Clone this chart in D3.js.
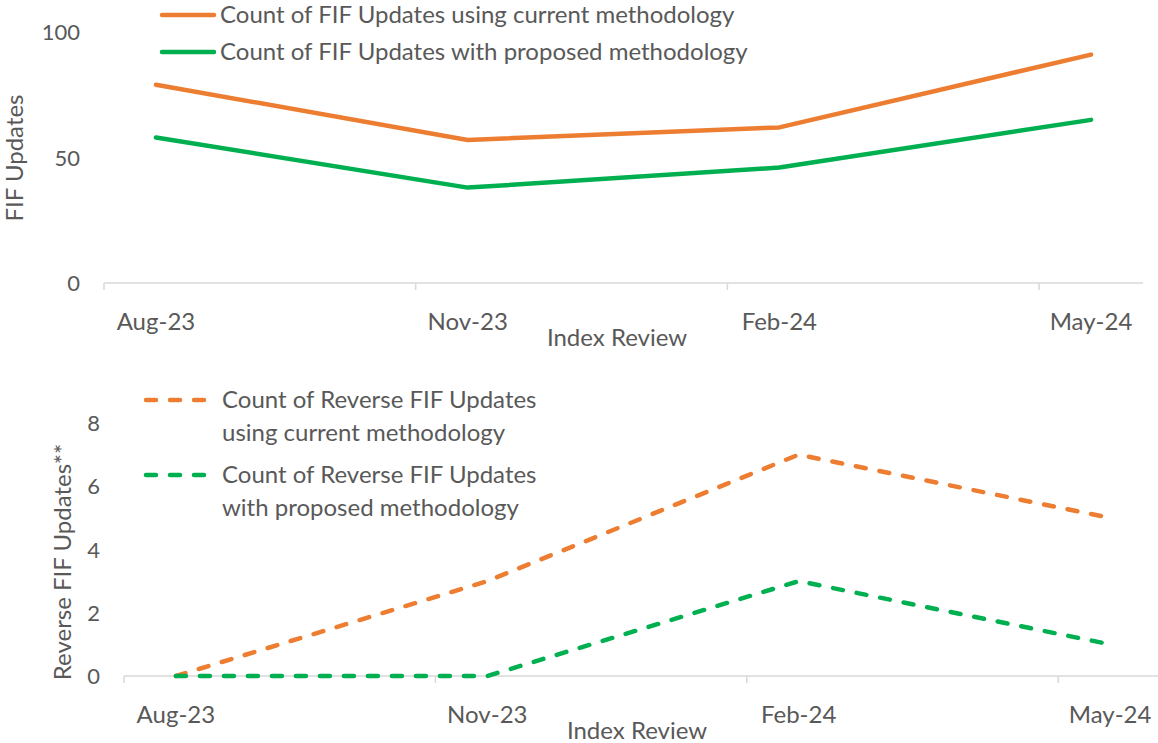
<!DOCTYPE html>
<html>
<head>
<meta charset="utf-8">
<script src="https://cdn.jsdelivr.net/npm/d3@7"></script>
<style>
  body { margin: 0; background: #fff; }
  svg text { font-family: Lato, "Open Sans", sans-serif; fill: #595959; }
</style>
</head>
<body>
<div id="chart"></div>
<script>
// categories: review label and month offset from Aug-23
var reviews = ["Aug-23", "Nov-23", "Feb-24", "May-24"];
var reviewMonth = [0, 3, 6, 9];
var totalMonths = 10;

// top chart
var fifCurrent = [79, 57, 62, 91];
var fifProposed = [58, 38, 46, 65];
var fifTicks = [0, 50, 100];

// bottom chart
var reverseCurrent = [0, 3, 7, 5];
var reverseProposed = [0, 0, 3, 1];
var reverseTicks = [0, 2, 4, 6, 8];

var orange = "#ED7D31", green = "#00B050", axisGrey = "#D9D9D9";

var svg = d3.select("#chart").append("svg")
    .attr("width", 1158)
    .attr("height", 743);

function drawPanel(opt) {
    var x = d3.scaleLinear().domain([0, totalMonths]).range([opt.left, opt.right]);
    var y = d3.scaleLinear().domain([0, opt.ticks[opt.ticks.length - 1]]).range([opt.bottom, opt.top]);

    var g = svg.append("g");

    // axis line
    g.append("line")
        .attr("x1", x(0)).attr("x2", x(totalMonths))
        .attr("y1", y(0)).attr("y2", y(0))
        .attr("stroke", axisGrey).attr("stroke-width", 1.5);

    // tick marks at each review boundary
    g.selectAll(".xtick").data(reviewMonth).enter().append("line")
        .attr("x1", function(d) { return x(d); })
        .attr("x2", function(d) { return x(d); })
        .attr("y1", y(0)).attr("y2", y(0) + 7)
        .attr("stroke", axisGrey).attr("stroke-width", 1.5);

    g.selectAll(".xlabel").data(reviews).enter().append("text")
        .attr("x", function(d, i) { return x(reviewMonth[i] + 0.5); })
        .attr("y", y(0) + 47)
        .attr("text-anchor", "middle")
        .style("font-size", "24px")
        .text(function(d) { return d; });

    g.selectAll(".ylabel").data(opt.ticks).enter().append("text")
        .attr("x", opt.left - opt.tickGap)
        .attr("y", function(d) { return y(d) + 8; })
        .attr("text-anchor", "end")
        .style("font-size", "22px")
        .text(function(d) { return d; });

    // axis titles
    g.append("text")
        .attr("x", opt.xTitleX).attr("y", y(0) + 63)
        .attr("text-anchor", "middle")
        .style("font-size", "24px")
        .text("Index Review");

    g.append("text")
        .attr("transform", "translate(" + opt.yTitleX + "," + opt.yTitleY + ") rotate(-90)")
        .attr("text-anchor", "middle")
        .style("font-size", "24px")
        .text(opt.yTitle);

    var line = d3.line()
        .x(function(d, i) { return x(reviewMonth[i] + 0.5); })
        .y(function(d) { return y(d); });

    opt.series.forEach(function(s) {
        g.append("path")
            .datum(s.values)
            .attr("d", line)
            .attr("fill", "none")
            .attr("stroke", s.color)
            .attr("stroke-width", 4.5)
            .attr("stroke-linecap", "round")
            .attr("stroke-linejoin", "round")
            .attr("stroke-dasharray", opt.dash || null);
    });

    // legend
    opt.series.forEach(function(s, i) {
        var ly = opt.legendY[i];
        g.append("line")
            .attr("x1", opt.legendX1).attr("x2", opt.legendX2)
            .attr("y1", ly).attr("y2", ly)
            .attr("stroke", s.color)
            .attr("stroke-width", 4.5)
            .attr("stroke-linecap", "round")
            .attr("stroke-dasharray", opt.dash || null);
        s.label.forEach(function(t, j) {
            g.append("text")
                .attr("x", opt.legendTextX)
                .attr("y", ly + 8 + j * 33)
                .style("font-size", "24px")
                .text(t);
        });
    });
}

drawPanel({
    left: 104, right: 1143, top: 32, bottom: 283,
    ticks: fifTicks, tickGap: 24,
    xTitleX: 617, yTitleX: 23, yTitleY: 158, yTitle: "FIF Updates",
    legendX1: 162, legendX2: 214, legendTextX: 220, legendY: [15, 52],
    series: [
        {values: fifCurrent, color: orange, label: ["Count of FIF Updates using current methodology"]},
        {values: fifProposed, color: green, label: ["Count of FIF Updates with proposed methodology"]}
    ]
});

drawPanel({
    left: 124, right: 1162, top: 423, bottom: 676,
    ticks: reverseTicks, tickGap: 24,
    xTitleX: 637, yTitleX: 71, yTitleY: 562, yTitle: "Reverse FIF Updates**",
    legendX1: 146, legendX2: 206, legendTextX: 222, legendY: [400, 475],
    dash: "10,14",
    series: [
        {values: reverseCurrent, color: orange, label: ["Count of Reverse FIF Updates", "using current methodology"]},
        {values: reverseProposed, color: green, label: ["Count of Reverse FIF Updates", "with proposed methodology"]}
    ]
});
</script>
</body>
</html>
